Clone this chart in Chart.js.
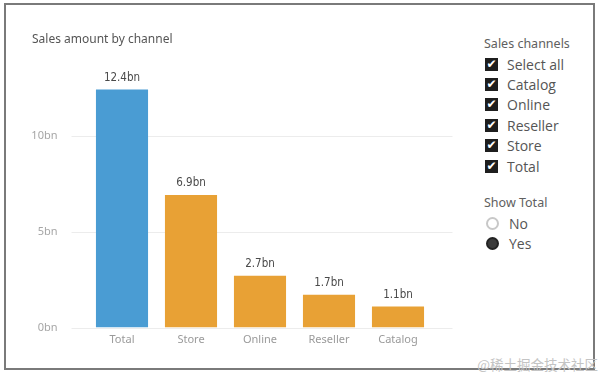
<!DOCTYPE html>
<html>
<head>
<meta charset="utf-8">
<script src="https://cdn.jsdelivr.net/npm/chart.js@4"></script>
<style>
  html, body { margin:0; padding:0; background:#fff; }
  body { width:600px; height:376px; position:relative; overflow:hidden; font-family:"Noto Sans", "Open Sans", sans-serif; }
  #frame { position:absolute; left:4px; top:3px; width:587px; height:363px; border:2px solid #7a7a7a; }
  #title { position:absolute; left:32px; top:30px; font-size:12px; color:#555; white-space:nowrap; }
  #chartBox { position:absolute; left:0; top:0; width:470px; height:376px; }
  .slicer { position:absolute; left:484px; font-size:12.5px; color:#606060; white-space:nowrap; }
  .row { position:absolute; left:485px; height:20px; display:flex; align-items:center; font-family:"Open Sans", "Noto Sans", sans-serif; font-size:14px; color:#555; white-space:nowrap; }
  .box { width:13px; height:13px; background:#1e1e1e; color:#fff; font-size:12px; line-height:13px; text-align:center; font-weight:bold; margin-right:9px; font-family:"DejaVu Sans", sans-serif; }
  .radio { width:9px; height:9px; border-radius:50%; margin:0 10px 0 1px; box-sizing:content-box; }
  .radio.off { border:2px solid #c8c8c8; background:#fff; }
  .radio.on { border:2px solid #222; background:#3a3a3a; }
  #wm { position:absolute; right:2px; top:354px; font-family:"Noto Sans CJK SC", sans-serif; font-size:13.5px; color:#c4c4c4; white-space:nowrap; }
</style>
</head>
<body>
<div id="frame"></div>
<div id="chartBox"><canvas id="salesChart" width="470" height="376"></canvas></div>
<div id="title">Sales amount by channel</div>
<div id="slicer"></div>
<div id="wm">@稀土掘金技术社区</div>
<script>
const channels = ['Total', 'Store', 'Online', 'Reseller', 'Catalog'];
const salesBn = [12.4, 6.9, 2.7, 1.7, 1.1];
const yTicks = [0, 5, 10];
const slicerItems = ['Select all', 'Catalog', 'Online', 'Reseller', 'Store', 'Total'];
const showTotalOptions = ['No', 'Yes'];
const showTotalValue = 'Yes';

const BLUE = '#4a9cd3';
const ORANGE = '#e8a135';

// slicer panel
const slicer = document.getElementById('slicer');
const head1 = document.createElement('div');
head1.className = 'slicer'; head1.style.top = '35px'; head1.textContent = 'Sales channels';
slicer.append(head1);
slicerItems.forEach((name, i) => {
  const row = document.createElement('div');
  row.className = 'row';
  row.style.top = (54 + i * 20.4) + 'px';
  const box = document.createElement('span'); box.className = 'box'; box.textContent = '✔';
  row.append(box, document.createTextNode(name));
  slicer.append(row);
});
const head2 = document.createElement('div');
head2.className = 'slicer'; head2.style.top = '194px'; head2.textContent = 'Show Total';
slicer.append(head2);
showTotalOptions.forEach((name, i) => {
  const row = document.createElement('div');
  row.className = 'row';
  row.style.top = (213 + i * 20) + 'px';
  const r = document.createElement('span'); r.className = 'radio ' + (name === showTotalValue ? 'on' : 'off');
  row.append(r, document.createTextNode(name));
  slicer.append(row);
});

// grid lines drawn a bit wider than the bars area, like Power BI
const gridPlugin = {
  id: 'wideGrid',
  beforeDatasetsDraw(chart) {
    const ctx = chart.ctx, y = chart.scales.y, area = chart.chartArea;
    ctx.save();
    ctx.strokeStyle = '#ececec'; ctx.lineWidth = 1;
    yTicks.forEach(v => {
      const py = Math.round(y.getPixelForValue(v)) + 0.5;
      ctx.beginPath(); ctx.moveTo(area.left - 16, py); ctx.lineTo(area.right + 20, py); ctx.stroke();
    });
    ctx.restore();
  }
};

const labelPlugin = {
  id: 'valueLabels',
  afterDatasetsDraw(chart) {
    const ctx = chart.ctx;
    const meta = chart.getDatasetMeta(0);
    ctx.save();
    ctx.fillStyle = '#4a4a4a'; ctx.font = '11.5px "DejaVu Sans Condensed", Roboto, sans-serif';
    ctx.textAlign = 'center'; ctx.textBaseline = 'bottom';
    meta.data.forEach((bar, i) => {
      ctx.fillText(salesBn[i] + 'bn', bar.x, bar.y - 6);
    });
    ctx.restore();
  }
};

new Chart(document.getElementById('salesChart').getContext('2d'), {
  type: 'bar',
  data: {
    labels: channels,
    datasets: [{
      data: salesBn,
      backgroundColor: channels.map(c => c === 'Total' ? BLUE : ORANGE),
      categoryPercentage: 1,
      barPercentage: 0.755
    }]
  },
  options: {
    responsive: false,
    animation: false,
    layout: { padding: { left: 20, right: 37.5, top: 78, bottom: 18.5 } },
    plugins: { legend: { display: false }, tooltip: { enabled: false } },
    scales: {
      x: {
        grid: { display: false, drawTicks: false },
        border: { display: false },
        ticks: { color: '#9a9a9a', padding: 6, font: { family: '"Noto Sans", sans-serif', size: 11 } },
        afterFit(s) { s.height = 30; }
      },
      y: {
        min: 0, max: 13,
        grid: { display: false, drawTicks: false },
        border: { display: false },
        afterBuildTicks(s) { s.ticks = yTicks.map(v => ({ value: v })); },
        ticks: { color: '#a6a6a6', padding: 30, font: { family: '"Noto Sans", sans-serif', size: 11 }, callback: v => v + 'bn' },
        afterFit(s) { s.width = 67.5; }
      }
    }
  },
  plugins: [gridPlugin, labelPlugin]
});
</script>
</body>
</html>
